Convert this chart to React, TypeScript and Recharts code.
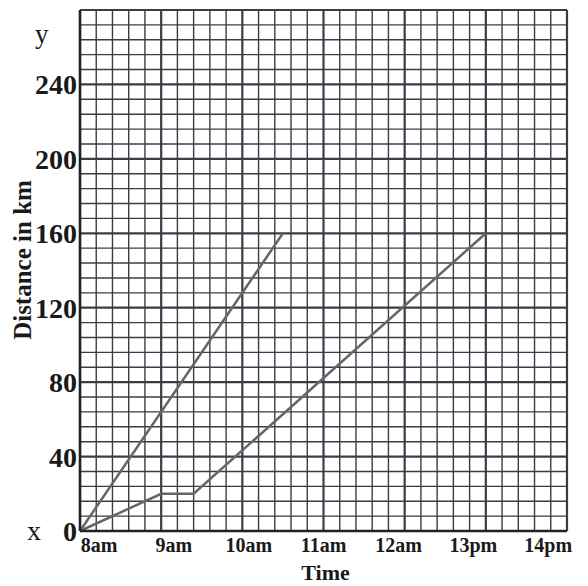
import React from 'react'
import { LineChart, Line, XAxis, YAxis, ReferenceLine, Label } from 'recharts'

// hours on the x axis (8 = 8am)
const hours = [8, 9, 10, 11, 12, 13, 14]
const hourLabels = ['8am', '9am', '10am', '11am', '12am', '13pm', '14pm']
const distanceTicks = [0, 40, 80, 120, 160, 200, 240]

// the two journeys
const firstTrip = [
  { t: 8, km: 0 },
  { t: 10.5, km: 160 },
]
const secondTrip = [
  { t: 8, km: 0 },
  { t: 9, km: 20 },
  { t: 9.4, km: 20 },
  { t: 13, km: 160 },
]

// graph paper: 12 min columns, 8 km rows
const minorTimes = Array.from({ length: 31 }, (_, i) => 8 + i * 0.2)
const minorKm = Array.from({ length: 36 }, (_, i) => i * 8)

const SERIF = '"Liberation Serif", "DejaVu Serif", serif'
const GRID = '#3c3c48'

function HourTick(props: any) {
  const { x, y, payload } = props
  const i = hours.indexOf(payload.value)
  return (
    <text
      x={x + 19 - i * 6.3}
      y={y}
      dy="0.71em"
      textAnchor="middle"
      fontFamily={SERIF}
      fontWeight="bold"
      fontSize={20}
      fill="#1a1a1a"
    >
      {hourLabels[i]}
    </text>
  )
}

function AxisNotes() {
  return (
    <g fontFamily={SERIF} fill="#1a1a1a">
      <text x={27} y={35} fontSize={27}>y</text>
      <text x={19} y={532} fontSize={28}>x</text>
      <text
        x={14}
        y={252}
        transform="rotate(-90 14 252)"
        textAnchor="middle"
        dominantBaseline="central"
        fontSize={25}
        fontWeight="bold"
      >
        Distance in km
      </text>
    </g>
  )
}

export default function App() {
  return (
    <div style={{ width: 580, height: 578, background: '#fff' }}>
      <LineChart width={580} height={578} margin={{ top: 2, right: 21, bottom: 0, left: 0 }}>
        {minorTimes.map((t, i) => (
          <ReferenceLine
            key={`vx${i}`}
            x={t}
            stroke={GRID}
            strokeWidth={i % 5 === 0 ? 2.2 : 1.4}
          />
        ))}
        {minorKm.map((k, i) => (
          <ReferenceLine
            key={`hy${i}`}
            y={k}
            stroke={GRID}
            strokeWidth={i % 5 === 0 ? 2.2 : 1.4}
          />
        ))}
        <XAxis
          type="number"
          dataKey="t"
          domain={[8, 14]}
          ticks={hours}
          allowDuplicatedCategory={false}
          height={55}
          tickSize={0}
          tickMargin={7}
          tick={<HourTick />}
          axisLine={{ stroke: '#222', strokeWidth: 2.5 }}
        >
          <Label
            value="Time"
            position="insideBottom"
            offset={6}
            dx={2}
            style={{ fontFamily: SERIF, fontWeight: 'bold', fontSize: 22, fill: '#1a1a1a' }}
          />
        </XAxis>
        <YAxis
          type="number"
          domain={[0, 280]}
          ticks={distanceTicks}
          width={72}
          tickSize={0}
          tickMargin={3}
          tick={{ fontFamily: SERIF, fontWeight: 'bold', fontSize: 28, fill: '#1a1a1a' }}
          axisLine={{ stroke: '#222', strokeWidth: 2.5 }}
        >
          <Label content={() => <AxisNotes />} />
        </YAxis>
        <Line
          data={firstTrip}
          dataKey="km"
          type="linear"
          stroke="#666"
          strokeWidth={2.5}
          dot={false}
          isAnimationActive={false}
        />
        <Line
          data={secondTrip}
          dataKey="km"
          type="linear"
          stroke="#666"
          strokeWidth={2.5}
          dot={false}
          isAnimationActive={false}
        />
      </LineChart>
    </div>
  )
}
